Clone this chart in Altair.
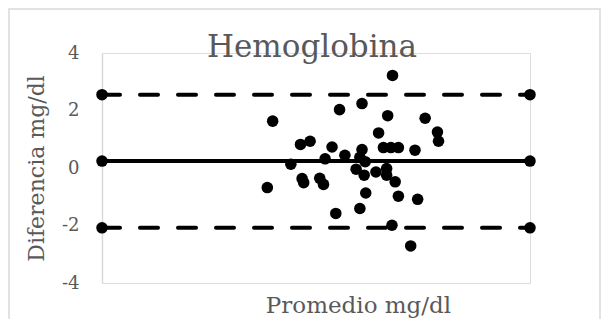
import altair as alt
import pandas as pd

# Scatter data (Bland-Altman)
promedio = [15.43, 13.19, 14.44, 14.86, 15.34, 16.04, 15.17, 16.27, 16.29, 13.71,
            13.89, 14.30, 15.26, 15.40, 15.54, 15.85, 14.86, 14.54, 14.17, 13.53,
            14.82, 14.92, 14.75, 14.90, 15.12, 15.32, 15.32, 15.48, 13.74, 13.77,
            14.07, 14.14, 13.09, 14.93, 15.54, 15.90, 14.82, 14.37, 15.42, 15.77]
diferencia = [3.22, 1.63, 2.03, 2.24, 1.82, 1.73, 1.22, 1.25, 0.93, 0.82,
              0.93, 0.73, 0.71, 0.71, 0.71, 0.62, 0.64, 0.44, 0.32, 0.13,
              0.37, 0.22, -0.04, -0.25, -0.14, -0.02, -0.25, -0.48, -0.37, -0.51,
              -0.36, -0.57, -0.68, -0.87, -0.98, -1.09, -1.41, -1.58, -1.99, -2.71]

# Limits of agreement
x_extremos = [10, 18]
media = 0.24
limite_sup = 2.55
limite_inf = -2.08
y_ticks = [-4, -2, 0, 2, 4]

pts = pd.DataFrame({"Promedio": promedio, "Diferencia": diferencia})
lim = pd.DataFrame({
    "Promedio": x_extremos * 3,
    "Diferencia": [limite_sup] * 2 + [media] * 2 + [limite_inf] * 2,
    "serie": ["sup", "sup", "media", "media", "inf", "inf"],
})
dashed = lim[lim["serie"] != "media"]
solid = lim[lim["serie"] == "media"]

FONT = "DejaVu Serif"
GRAY = "#595959"

xs = alt.Scale(domain=[10, 18], nice=False, zero=False)
ys = alt.Scale(domain=[-4, 4], nice=False)

x_enc = alt.X("Promedio:Q", scale=xs, axis=alt.Axis(
    title="Promedio mg/dl", labels=False, ticks=False, domain=False, grid=False,
    titleX=256, titleY=29, titleAlign="center", titleBaseline="alphabetic",
    titleFont=FONT, titleFontSize=23, titleFontWeight="normal", titleColor=GRAY))
y_enc = alt.Y("Diferencia:Q", scale=ys, axis=alt.Axis(
    values=y_ticks, title="Diferencia mg/dl", ticks=False, grid=False,
    domainColor="#d9d9d9", domainWidth=1.5,
    labelPadding=23, labelFont=FONT, labelFontSize=18, labelColor=GRAY,
    labelExpr="'' + datum.value",
    titleAngle=270, titleX=-66, titleY=115, titleAlign="center", titleBaseline="middle",
    titleFont=FONT, titleFontSize=22, titleFontWeight="normal", titleColor=GRAY))

frame = alt.Chart(pd.DataFrame({"a": [0]})).mark_rect(
    filled=False, stroke="#d9d9d9", strokeWidth=1.5
).encode(x=alt.value(-93), x2=alt.value(498), y=alt.value(-44), y2=alt.value(320))

dash_lines = alt.Chart(dashed).mark_line(
    color="black", strokeWidth=4, strokeDash=[18, 20], strokeCap="round"
).encode(x=x_enc, y=y_enc, detail="serie:N")

mean_line = alt.Chart(solid).mark_line(color="black", strokeWidth=4).encode(x=x_enc, y=y_enc)

end_pts = alt.Chart(lim).mark_point(filled=True, color="black", size=133, opacity=1).encode(
    x=x_enc, y=y_enc)

scatter = alt.Chart(pts).mark_point(filled=True, color="black", size=133, opacity=1).encode(
    x=x_enc, y=y_enc)

chart = alt.layer(frame, dash_lines, mean_line, end_pts, scatter).properties(
    width=428, height=230,
    autosize="none",
    padding={"left": 94, "top": 45, "right": 71, "bottom": 36},
    title=alt.TitleParams("Hemoglobina", font=FONT, fontSize=31, fontWeight="normal",
                          color=GRAY, anchor="middle", dx=-4, offset=-80,
                          baseline="alphabetic"),
).configure_view(stroke=None).configure(background="white")

chart.save("out.html", embed_options={"renderer": "svg", "actions": False})
